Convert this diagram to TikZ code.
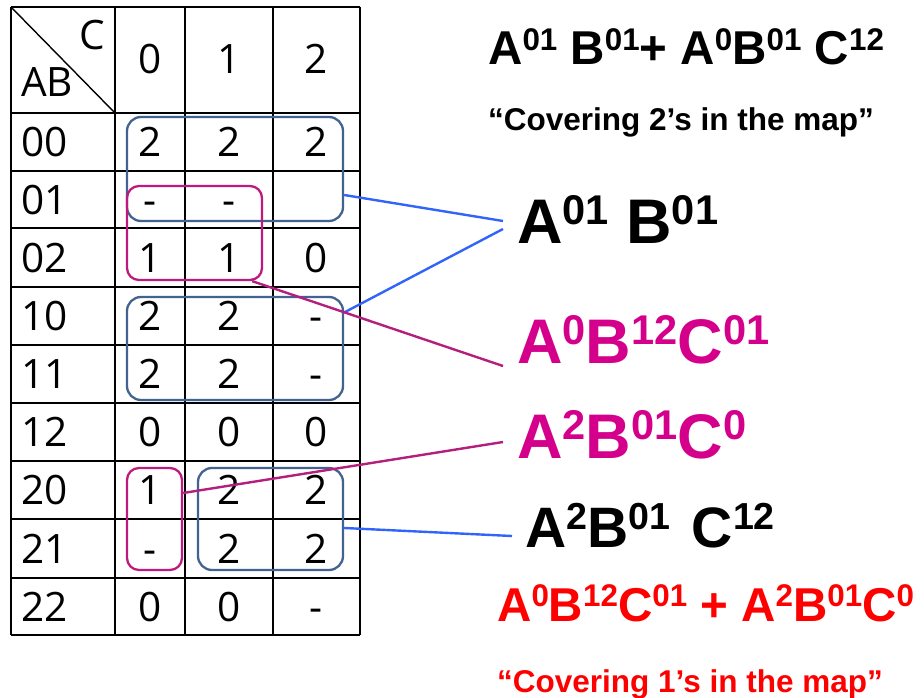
\documentclass[tikz,border=0pt]{standalone}
\usepackage{fontspec}
\usepackage{graphicx}
\setmainfont{Liberation Sans}
\newfontfamily\tabfont{Open Sans}
\usetikzlibrary{calc}
\newcommand\spx[1]{\raisebox{0.3em}{\scalebox{0.66}{#1}}}
\definecolor{boxblue}{RGB}{66,99,143}
\definecolor{boxmag}{RGB}{190,25,125}
\definecolor{lineblue}{RGB}{50,100,250}
\definecolor{linemag}{RGB}{180,30,125}
\definecolor{txtmag}{RGB}{212,0,140}
\begin{document}
\begin{tikzpicture}[x=1pt,y=-1pt,
  grid/.style={line width=2.2pt},
  cell/.style={anchor=base, inner sep=0pt, font=\tabfont\fontsize{40.5}{40.5}\selectfont},
  lab/.style={anchor=base west, inner sep=0pt, font=\tabfont\fontsize{40.5}{40.5}\selectfont},
  bbox/.style={draw=boxblue, line width=2.3pt, rounded corners=14pt, inner sep=0pt},
  mbox/.style={draw=boxmag, line width=2.3pt, rounded corners=12pt, inner sep=0pt},
  bline/.style={draw=lineblue, line width=2.4pt},
  mline/.style={draw=linemag, line width=2.4pt},
  form/.style={anchor=base west, inner sep=0pt},
]
\useasboundingbox (0,0) rectangle (924,698);
% grid
\foreach \x in {11,115,185,273,360} \draw[grid] (\x,7) -- (\x,635);
\foreach \y in {7,113,171,228,287,345,403,461,519,578,635} \draw[grid] (11,\y) -- (360,\y);
\draw[line width=1.4pt] (11,7) -- (115,113);
% header
\node[cell] (hc) at (92,50) {C};
\node[lab] (hab) at (21,97) {AB};
\node[cell] (h0) at (150,74) {0};
\node[cell] (h1) at (229,74) {1};
\node[cell] (h2) at (316,74) {2};
% rows
\foreach \yc/\lb/\a/\b/\c [count=\i] in {
  142/00/2/2/2,
  199.5/01/-/-/{},
  257.5/02/1/1/0,
  316/10/2/2/-,
  374/11/2/2/-,
  432/12/0/0/0,
  490/20/1/2/2,
  548.5/21/-/2/2,
  606.5/22/0/0/-}{
  \node[lab] (l\i) at (21,\yc+14.5) {\lb};
  \node[cell] (c\i-0) at (150,\yc+14.5) {\a};
  \node[cell] (c\i-1) at (229,\yc+14.5) {\b};
  \node[cell] (c\i-2) at (316,\yc+14.5) {\c};
}
% groups
\node[bbox, minimum width=216pt, minimum height=104pt] (b1) at (235,169) {};
\node[bbox, minimum width=216pt, minimum height=103pt] (b2) at (235,348.5) {};
\node[bbox, minimum width=145pt, minimum height=102pt] (b3) at (270.5,519) {};
\node[mbox, minimum width=135pt, minimum height=94pt] (b4) at (194.5,233) {};
\node[mbox, minimum width=55pt, minimum height=102pt] (b5) at (154.5,519) {};
% texts
\node[form, font=\bfseries\fontsize{47.5}{47.5}\selectfont] (f0) at (488,65)
  {A\spx{01} B\spx{01}+ A\spx{0}B\spx{01} C\spx{12}};
\node[form, font=\bfseries\fontsize{31.5}{31.5}\selectfont] (cov2) at (488,131)
  {“Covering 2’s in the map”};
\node[form, font=\bfseries\fontsize{63}{63}\selectfont] (t1) at (517,243)
  {A\spx{01} B\spx{01}};
\node[form, text=txtmag, font=\bfseries\fontsize{63}{63}\selectfont] (t2) at (517,363)
  {A\spx{0}B\spx{12}C\spx{01}};
\node[form, text=txtmag, font=\bfseries\fontsize{63}{63}\selectfont] (t3) at (517,458)
  {A\spx{2}B\spx{01}C\spx{0}};
\node[form, font=\bfseries\fontsize{57}{57}\selectfont] (t4) at (525,547)
  {A\spx{2}B\spx{01}\hspace{0.1em} C\spx{12}};
\node[form, text=red, font=\bfseries\fontsize{47.5}{47.5}\selectfont] (f1) at (497,621)
  {A\spx{0}B\spx{12}C\spx{01} + A\spx{2}B\spx{01}C\spx{0}};
\node[form, text=red, font=\bfseries\fontsize{31.5}{31.5}\selectfont] (cov1) at (497,692)
  {“Covering 1’s in the map”};
% connectors
\draw[bline] ($(b1.east)+(0,26)$) -- ($(t1.base west)+(-14,-22)$);
\draw[bline] ($(t1.base west)+(-14,-14)$) -- ($(b2.east)+(0,-36)$);
\draw[mline] ($(b4.south east)+(-11,0)$) -- ($(t2.base west)+(-14,3)$);
\draw[mline] ($(b5.east)+(0,-26)$) -- ($(t3.base west)+(-14,-16)$);
\draw[bline] ($(b3.east)+(0,9)$) -- ($(t4.base west)+(-13,-11)$);
\end{tikzpicture}
\end{document}
